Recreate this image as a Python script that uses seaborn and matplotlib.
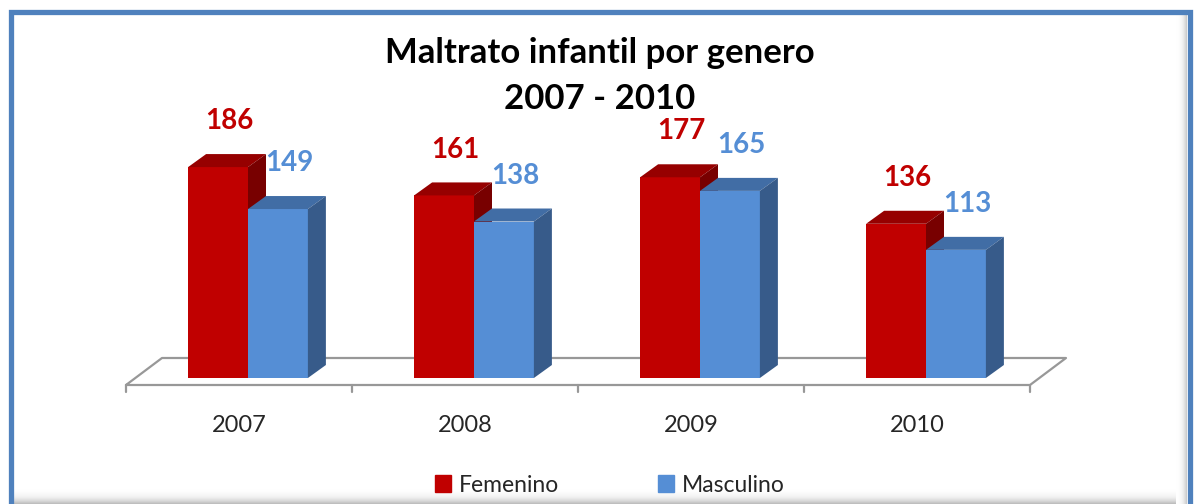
import numpy as np
import pandas as pd
import matplotlib
matplotlib.use("Agg")
import matplotlib.pyplot as plt
from matplotlib.patches import Polygon, Rectangle
import seaborn as sns

# data
years = ["2007", "2008", "2009", "2010"]
femenino = [186, 161, 177, 136]
masculino = [149, 138, 165, 113]
series_names = ["Femenino", "Masculino"]

RED = "#C00000"
BLUE = "#558ED5"
FACE_COLORS = {
    "Femenino": ("#960000", "#780000"),   # top, side
    "Masculino": ("#416DA5", "#375B8A"),
}

W, H = 1195, 504
PX_X = 226.0      # pixels per category
PX_Y = 1.134      # pixels per case
BASE_Y = 378      # pixel row of bar base
LEFT_X = 135      # pixel column of category -0.5 (bar plane)

sns.set_theme(style="white")
plt.rcParams["font.family"] = ["Lato", "DejaVu Sans"]

df = pd.DataFrame({
    "year": years * 2,
    "casos": femenino + masculino,
    "genero": [series_names[0]] * len(years) + [series_names[1]] * len(years),
})

fig = plt.figure(figsize=(W / 100, H / 100), dpi=100)
top_px = 100
ax = fig.add_axes([LEFT_X / W, 1 - BASE_Y / H, 4 * PX_X / W, (BASE_Y - top_px) / H])

sns.barplot(data=df, x="year", y="casos", hue="genero", palette=[RED, BLUE],
            width=0.53, saturation=1, linewidth=0, legend=False, ax=ax)
ax.set_xlim(-0.5, 3.5)
ax.set_ylim(0, (BASE_Y - top_px) / PX_Y)

# 3D depth
ddx = 18 / PX_X
ddy = 13 / PX_Y
for z, (name, cont) in enumerate(zip(series_names, ax.containers)):
    top_c, side_c = FACE_COLORS[name]
    for bar in cont:
        bar.set_zorder(2 + z)
        x0, w, h = bar.get_x(), bar.get_width(), bar.get_height()
        top = Polygon([(x0, h), (x0 + w, h), (x0 + w + ddx, h + ddy), (x0 + ddx, h + ddy)],
                      closed=True, facecolor=top_c, edgecolor="none", zorder=2 + z, clip_on=False)
        side = Polygon([(x0 + w, 0), (x0 + w, h), (x0 + w + ddx, h + ddy), (x0 + w + ddx, ddy)],
                       closed=True, facecolor=side_c, edgecolor="none", zorder=2 + z, clip_on=False)
        ax.add_patch(top)
        ax.add_patch(side)
        color = RED if name == "Femenino" else BLUE
        ax.annotate(f"{int(h)}", (x0 + w / 2, h), xytext=(8, 33), textcoords="offset points",
                    ha="center", va="center", fontsize=20, fontweight="bold", color=color,
                    annotation_clip=False)

# floor
shift = 9 / PX_X
fy0 = -7 / PX_Y
fdx = 36 / PX_X
fdy = 27 / PX_Y
fx0, fx1 = -0.5 - shift, 3.5 - shift
floor_x = [fx0, fx1, fx1 + fdx, fx0 + fdx, fx0]
floor_y = [fy0, fy0, fy0 + fdy, fy0 + fdy, fy0]
ax.plot(floor_x, floor_y, color="#989898", lw=1.6, clip_on=False, zorder=1)
for i in range(len(years) + 1):
    ax.plot([fx0 + i, fx0 + i], [fy0, fy0 - 7 / PX_Y], color="#989898", lw=1.6,
            clip_on=False, zorder=1)

ax.set_xticks(np.arange(len(years)) - shift, labels=years)
ax.tick_params(axis="x", length=0, pad=27, labelsize=17)
ax.set_yticks([])
ax.set_xlabel("")
ax.set_ylabel("")
sns.despine(ax=ax, left=True, bottom=True)

# title
fig.text(600 / W, 1 - 53 / H, "Maltrato infantil por genero", ha="center", va="center",
         fontsize=25, fontweight="bold", color="black")
fig.text(600 / W, 1 - 99 / H, "2007 - 2010", ha="center", va="center",
         fontsize=25, fontweight="bold", color="black")

# legend
handles = [Rectangle((0, 0), 1, 1, color=c) for c in (RED, BLUE)]
fig.legend(handles, series_names, loc="center", bbox_to_anchor=(610 / W, 1 - 485 / H),
           ncol=2, frameon=False, fontsize=16.5, handlelength=0.7, handleheight=0.7,
           handletextpad=0.35, columnspacing=4.3)

# inner shadows
grad = np.linspace(0, 1, 50) ** 2
sh_b = fig.add_axes([13 / W, 0, (1187 - 13) / W, 16 / H])
sh_b.imshow(np.tile(grad[:, None], (1, 2)), cmap="Greys", vmin=0, vmax=2.6,
            aspect="auto", extent=(0, 1, 0, 1), origin="upper", alpha=1)
sh_b.axis("off")
sh_r = fig.add_axes([1176 / W, 0, 11 / W, (H - 14) / H])
sh_r.imshow(np.tile(grad[None, :], (2, 1)), cmap="Greys", vmin=0, vmax=3.0,
            aspect="auto", extent=(0, 1, 0, 1), alpha=1)
sh_r.axis("off")

# frame
fig.patches.append(Rectangle((10.5 / W, -0.05), (1189.5 - 10.5) / W, 1.05 - 11.5 / H,
                             transform=fig.transFigure, fill=False, edgecolor="#4F81BD",
                             linewidth=3.8, zorder=10))

fig.savefig("out.png", dpi=100)
